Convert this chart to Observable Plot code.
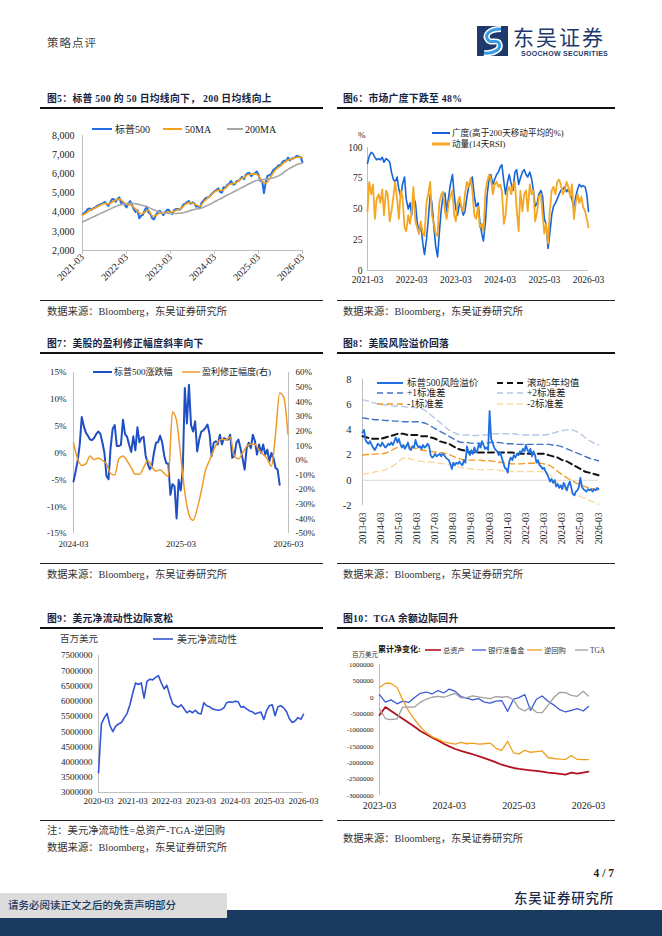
<!DOCTYPE html>
<html><head><meta charset="utf-8">
<script src="https://cdn.jsdelivr.net/npm/d3@7"></script>
<script src="https://cdn.jsdelivr.net/npm/@observablehq/plot@0.6"></script>
<style>
html,body{margin:0;padding:0;background:#fff;}
#page{position:relative;width:662px;height:936px;overflow:hidden;font-family:"Liberation Serif","Noto Sans CJK SC",serif;}
.abs{position:absolute;white-space:nowrap;}
</style>
</head><body><div id="page"></div>
<script>
// ---------------- DATA ----------------
// Fig5: S&P 500 (semi-monthly from 2021-03), 50MA & 200MA (monthly from 2021-03)
const spx = [3870,3960, 4050,4170, 4190,4120, 4220,4240, 4330,4370, 4420,4460, 4530,4440, 4330,4480, 4670,4690, 4540,4680,
 4770,4480, 4520,4380, 4250,4440, 4580,4390, 4150,4010, 4100,3680, 3820,3860, 4120,4290, 3980,3900, 3680,3620, 3860,3990, 4070,3990,
 3840,3990, 4120,4130, 3980,3900, 4120,4150, 4170,4130, 4220,4390, 4450,4510, 4580,4440, 4510,4450, 4290,4330, 4200,4500, 4590,4720,
 4770,4780, 4920,5000, 5100,5150, 5240,5060, 5020,5300, 5280,5430, 5480,5630, 5450,5450, 5630,5620, 5730,5840, 5720,5950, 6030,6050,
 5880,5990, 6040,6120, 5950,5640, 5600,5000, 5600,5900, 5930,6000, 6200,6260, 6340,6450, 6450,6620, 6700,6650, 6850,6700, 6800,6800,
 6880,6940, 6900,6860, 6600];
const ma50 = [3850,3950,4100,4180,4270,4380,4450,4430,4520,4630,
 4680,4550,4400,4390,4250,4050,3900,4000,4100,3800,3830,3950,
 3930,4010,4000,4050,4130,4220,4400,4500,4480,4380,4300,4530,
 4720,4880,5060,5150,5130,5260,5450,5480,5560,5710,5800,5950,
 5980,6000,5900,5600,5500,5750,6050,6280,6420,6600,6720,6780,
 6840,6880,6850];
const ma200 = [3500,3580,3670,3760,3850,3940,4030,4120,4210,4290,
 4370,4420,4450,4460,4450,4420,4370,4320,4250,4150,4080,4020,
 3960,3940,3930,3930,3940,3960,4000,4060,4120,4170,4200,4260,
 4350,4440,4540,4640,4740,4840,4940,5040,5140,5240,5340,5440,
 5540,5620,5680,5700,5710,5740,5790,5860,5960,6100,6230,6340,
 6440,6520,6580];
const years5 = ["2021-03","2022-03","2023-03","2024-03","2025-03","2026-03"];

// Fig6: breadth & RSI (semi-monthly from 2021-03)
const breadth = [87,93, 96,95, 92,90, 91,90, 92,88, 91,90, 88,80, 74,72, 76,66, 60,70,
 76,58, 50,55, 45,60, 55,40, 30,38, 22,13, 25,40, 62,55, 35,20, 11,30, 50,60, 63,48,
 60,70, 78,62, 50,45, 55,52, 45,48, 60,68, 72,76, 60,52, 55,40, 30,24, 40,62, 75,78,
 70,74, 78,80, 84,86, 72,62, 72,78, 70,65, 80,82, 70,75, 80,82, 78,76, 80,75, 65,52,
 55,62, 65,60, 42,38, 18,30, 45,52, 55,58, 62,65, 66,68, 64,66, 62,58, 50,60, 66,70,
 68,69, 68,62, 48];
const rsi = [48,72, 62,70, 42,58, 62,55, 66,45, 65,62, 40,48, 60,72, 58,42, 65,60,
 35,32, 45,38, 48,68, 40,35, 30,40, 30,28, 55,62, 72,45, 38,30, 28,55, 62,64, 48,42,
 55,60, 65,45, 40,55, 60,52, 48,62, 72,68, 75,65, 45,42, 52,35, 38,32, 65,72, 78,75,
 62,70, 72,68, 70,65, 38,45, 65,68, 62,70, 72,50, 32,65, 48,62, 65,48, 70,62, 65,40,
 48,60, 62,45, 30,38, 22,48, 65,68, 62,72, 74,70, 62,65, 72,68, 60,70, 42,55, 62,55,
 60,52, 48,42, 35];
const years6 = ["2021-03","2022-03","2023-03","2024-03","2025-03","2026-03"];

// Fig7: S&P 500 change (weekly from 2024-03-01, %), earnings revision (bi-weekly, %, right axis)
const spxChg = [-5.3,-3.5,-1.5,1.5,6.7,5.0,3.8,3.2,2.5,2.4,
 2.8,3.5,4.0,3.6,2.0,0.0,-4.3,-4.9,1.0,4.5,
 5.2,1.3,1.3,1.5,6.2,3.5,3.0,1.5,0.2,3.1,
 0.5,4.8,2.0,2.8,3.0,-0.5,-2.0,-3.0,-2.5,0.0,
 1.9,2.0,3.2,2.0,-0.5,-1.9,-2.0,-7.8,-5.8,-6.2,
 -12.2,-5.0,-7.0,-3.0,12.1,5.5,12.7,5.2,4.0,5.9,
 0.3,2.5,4.0,4.2,4.7,5.3,3.5,-0.6,1.9,2.2,
 1.6,3.4,1.6,2.8,2.5,2.5,3.4,-0.9,-0.6,1.9,
 2.5,0.9,-1.0,-3.1,0.9,1.9,0.9,3.4,2.2,-0.3,
 1.6,0.0,1.6,-0.3,0.6,-1.6,0.0,-0.9,-2.8,-3.1,
 -5.9];
const revision = [12,1,-3.5,-2.5,3,0.5,1.5,0,-2.5,-9,
 -10,1,3,-0.5,-5,-9.5,-9.5,-5,0,-4.5,
 -7.3,-6.5,-9,-11,33,27,3,-22,-37,-41,
 -33,-21,-7,0,7,12.5,14.4,14,16,3,
 1,5,9.5,11,11,7,4,1,-4,18,
 46,43,18];
const years7 = ["2024-03","2025-03","2026-03"];

// Fig8: ERP (monthly from 2013-03), rolling mean and bands (quarterly from 2013-03)
const erp = [3.8,4.0,3.2,3.0,2.9,3.1,2.8,2.6,2.4,2.6,
 2.9,2.8,2.7,3.0,2.8,2.6,2.7,2.9,2.8,3.0,2.8,3.1,
 3.4,3.0,3.3,2.9,2.6,2.8,2.5,2.7,3.0,2.5,2.4,2.7,
 2.6,3.2,2.8,2.6,2.7,2.5,2.8,2.6,2.7,2.9,2.7,2.0,
 1.8,1.9,2.1,1.9,2.0,2.1,1.9,2.1,2.0,1.8,1.7,1.6,
 1.3,0.9,1.4,1.2,1.4,1.3,1.5,1.3,1.2,1.6,1.4,2.7,
 2.2,2.0,2.4,2.1,2.6,2.2,2.4,2.9,2.6,3.1,2.8,2.5,
 2.6,2.4,5.5,3.3,3.0,2.6,2.4,2.3,2.0,2.2,1.8,1.4,
 1.0,0.9,0.6,1.5,1.8,1.6,2.0,1.8,2.1,2.0,2.3,2.2,
 2.5,2.3,2.8,2.4,2.2,2.5,1.9,2.3,2.0,1.4,1.6,1.2,
 1.1,0.9,1.0,0.7,0.5,0.2,-0.1,0.1,-0.2,0.0,-0.5,-0.3,
 -0.6,-0.4,-0.7,-0.2,-0.5,-0.8,-0.4,-0.1,-0.6,-1.1,-1.2,-0.9,
 -0.8,-0.5,0.2,-0.5,-0.7,-0.8,-0.9,-0.7,-0.8,-0.7,-0.9,-0.7,
 -0.8,-0.6,-0.7];
const erpMean = [3.5,3.4,3.3,3.3, 3.3,3.4,3.5,3.6, 3.7,3.7,3.6,3.6, 3.6,3.5,3.5,3.4, 3.3,3.1,3.0,2.9,
 2.7,2.5,2.4,2.3, 2.2,2.2,2.2,2.2, 2.2,2.2,2.2,2.2, 2.2,2.2,2.1,2.1, 2.1,2.1,2.1,2.1,
 2.1,2.0,1.9,1.8, 1.6,1.5,1.3,1.1, 0.9,0.7,0.6,0.5, 0.4];
const erpP1 = [4.95,4.9,4.85,4.8, 4.8,4.75,4.75,4.7, 4.7,4.65,4.65,4.65, 4.65,4.6,4.5,4.3, 4.1,3.9,3.7,3.5,
 3.3,3.1,3.0,3.0, 2.95,2.95,2.95,2.95, 3.0,3.0,3.0,2.95, 2.9,2.9,2.85,2.85, 2.85,2.85,2.85,2.85,
 2.85,2.85,2.8,2.75, 2.65,2.5,2.35,2.2, 2.05,1.9,1.75,1.65, 1.55];
const erpP2 = [6.4,6.3,6.2,6.1, 6.0,6.0,5.95,5.9, 5.9,5.85,5.8,5.8, 5.75,5.7,5.5,5.2, 4.9,4.6,4.3,4.0,
 3.8,3.65,3.6,3.6, 3.55,3.55,3.6,3.6, 3.65,3.7,3.7,3.7, 3.7,3.7,3.65,3.6, 3.6,3.6,3.6,3.6,
 3.6,3.65,3.75,3.85, 3.95,4.0,4.0,3.9, 3.7,3.4,3.15,2.95, 2.8];
const erpM1 = [2.0,2.05,2.05,2.1, 2.1,2.15,2.3,2.5, 2.65,2.75,2.7,2.6, 2.5,2.4,2.35,2.3, 2.25,2.2,2.15,2.05,
 1.9,1.75,1.65,1.6, 1.6,1.6,1.6,1.55, 1.55,1.5,1.45,1.4, 1.35,1.3,1.3,1.3, 1.35,1.35,1.35,1.35,
 1.3,1.2,1.0,0.7, 0.45,0.2,0.0,-0.2, -0.35,-0.5,-0.6,-0.7, -0.8];
const erpM2 = [0.5,0.55,0.6,0.7, 0.75,0.85,1.0,1.2, 1.5,1.75,1.75,1.65, 1.55,1.5,1.45,1.45, 1.4,1.35,1.3,1.25,
 1.2,1.1,1.0,0.95, 0.9,0.85,0.85,0.85, 0.85,0.85,0.8,0.75, 0.7,0.7,0.7,0.7, 0.7,0.7,0.7,0.7,
 0.65,0.5,0.2,-0.2, -0.5,-0.8,-1.0,-1.15, -1.3,-1.45,-1.6,-1.75, -1.9];
const years8 = d3.range(2013, 2027).map(y => y + "-03");

// Fig9: US net liquidity (monthly from 2020-03, USD mn)
const netLiq = [3650000,5250000,5450000,5600000,5200000,5000000,5180000,5250000,5300000,5450000,
 5600000,5900000,6250000,6600000,6550000,6600000,6100000,6650000,6720000,6700000,
 6780000,6840000,6600000,6400000,6520000,6200000,5920000,5850000,5800000,5880000,
 5750000,5620000,5680000,5620000,5700000,5600000,5580000,5950000,5850000,5820000,
 5750000,5720000,5700000,5720000,5780000,5950000,5980000,5960000,6000000,5980000,
 5800000,5820000,5750000,5680000,5650000,5580000,5620000,5640000,5400000,5700000,
 5850000,5880000,5520000,5820000,5850000,5780000,5650000,5420000,5300000,5350000,
 5460000,5400000,5570000];
const years9 = ["2020-03","2021-03","2022-03","2023-03","2024-03","2025-03","2026-03"];

// Fig10: cumulative changes (monthly from 2023-03, USD mn)
const totalAssets = [-550000,-300000,-420000,-540000,-660000,-780000,-900000,-1030000,-1130000,-1230000,
 -1320000,-1420000,-1500000,-1580000,-1640000,-1690000,-1740000,-1800000,-1860000,-1920000,
 -1990000,-2060000,-2110000,-2160000,-2190000,-2210000,-2230000,-2250000,-2270000,-2300000,
 -2320000,-2340000,-2360000,-2300000,-2330000,-2300000,-2270000];
const reserves = [80000,-150000,-80000,-200000,-120000,-160000,-10000,120000,160000,100000,
 200000,130000,250000,180000,20000,-30000,-80000,-40000,-150000,-180000,
 -120000,-100000,-430000,-60000,-10000,80000,-400000,-60000,40000,-120000,
 -240000,-380000,-450000,-400000,-350000,-420000,-280000];
const reverseRepo = [300000,430000,420000,300000,-80000,-420000,-680000,-900000,-1080000,-1200000,
 -1280000,-1360000,-1400000,-1430000,-1380000,-1420000,-1400000,-1430000,-1420000,-1400000,
 -1560000,-1620000,-1350000,-1700000,-1730000,-1620000,-1680000,-1660000,-1640000,-1840000,
 -1870000,-1890000,-1900000,-1780000,-1900000,-1905000,-1905000];
const tga = [-350000,-650000,-680000,-660000,-300000,-300000,-300000,-150000,-60000,0,
 30000,0,60000,120000,-20000,-10000,40000,10000,-20000,-40000,
 20000,0,20000,-80000,-330000,-420000,-300000,-460000,-470000,-250000,
 0,150000,140000,60000,30000,180000,40000];
const years10 = ["2023-03","2024-03","2025-03","2026-03"];

// ---------------- HELPERS ----------------
const SERIF = '"Liberation Serif","Noto Sans CJK SC",serif';
const page = document.getElementById('page');
const D = s => new Date(s + (s.length === 7 ? "-01" : "") + "T00:00:00Z");
const semi = (start, vals) => vals.map((v, i) => ({date: d3.utcDay.offset(d3.utcMonth.offset(D(start), Math.floor(i / 2)), (i % 2) * 14), value: v}));
const monthly = (start, vals, step = 1) => vals.map((v, i) => ({date: d3.utcMonth.offset(D(start), i * step), value: v}));
const daily = (start, vals, days) => vals.map((v, i) => ({date: d3.utcDay.offset(D(start), i * days), value: v}));
const fmtYM = d3.utcFormat("%Y-%m");

function T(str, x, y, size, o = {}) {
  const d = document.createElement('div');
  d.className = 'abs';
  d.textContent = str;
  const lh = Math.round(size * 1.3);
  d.style.fontSize = size + 'px';
  d.style.lineHeight = lh + 'px';
  d.style.top = (y - lh / 2) + 'px';
  if (o.anchor === 'end') d.style.right = (662 - x) + 'px'; else d.style.left = x + 'px';
  if (o.weight) d.style.fontWeight = o.weight;
  d.style.color = o.color || '#222';
  d.style.fontFamily = o.family || SERIF;
  if (o.ls) d.style.letterSpacing = o.ls + 'px';
  if (o.z) d.style.zIndex = o.z;
  page.appendChild(d); return d;
}
function R(x, y, w, h, color, z) {
  const d = document.createElement('div');
  d.className = 'abs';
  Object.assign(d.style, {left: x + 'px', top: y + 'px', width: w + 'px', height: h + 'px', background: color});
  if (z) d.style.zIndex = z;
  page.appendChild(d); return d;
}
function L(x1, x2, y, color, w, dash) {
  const ns = "http://www.w3.org/2000/svg";
  const s = document.createElementNS(ns, "svg");
  s.setAttribute("width", x2 - x1); s.setAttribute("height", 10);
  s.style.position = "absolute"; s.style.left = x1 + "px"; s.style.top = (y - 5) + "px";
  const l = document.createElementNS(ns, "line");
  l.setAttribute("x1", 0); l.setAttribute("x2", x2 - x1); l.setAttribute("y1", 5); l.setAttribute("y2", 5);
  l.setAttribute("stroke", color); l.setAttribute("stroke-width", w);
  if (dash) l.setAttribute("stroke-dasharray", dash);
  s.appendChild(l); page.appendChild(s);
}
function place(svg, x, y) {
  const d = document.createElement('div');
  d.className = 'abs';
  d.style.left = x + 'px'; d.style.top = y + 'px';
  d.appendChild(svg); page.appendChild(d);
}
const st = (fs) => ({background: "transparent", overflow: "visible", fontFamily: SERIF, fontSize: fs + "px", color: "#222"});
const AX = "#bfbfbf";

// ---------------- PAGE CHROME ----------------
T("策略点评", 47, 43, 11.5, {color: "#444", ls: 1});
(function () {
  const d = document.createElement('div');
  d.className = 'abs'; d.style.left = '477px'; d.style.top = '26px';
  d.innerHTML = '<svg width="31" height="30"><rect width="31" height="30" fill="#1d3a6b"/>' +
    '<path d="M24 3 C12 3 7 9 11 14 C14 18 20 13 22 17 C25 23 17 28 7 27" fill="none" stroke="#ffffff" stroke-width="6"/>' +
    '<path d="M24 3 C12 3 7 9 11 14 C14 18 20 13 22 17 C25 23 17 28 7 27" fill="none" stroke="#3a9be0" stroke-width="3"/></svg>';
  page.appendChild(d);
})();
T("东吴证券", 513, 36.5, 21, {color: "#1d3a6b", family: '"Noto Sans CJK SC"', ls: 2});
T("SOOCHOW SECURITIES", 521, 53.5, 7, {color: "#1d3a6b", family: '"Liberation Sans",sans-serif', weight: 700, ls: 0.3});

// titles + rules
const TT = {weight: 700, color: "#18233f", ls: 0.3};
T("图5：标普 500 的 50 日均线向下， 200 日均线向上", 47, 98, 9.8, TT);
T("图6：市场广度下跌至 48%", 343, 98, 9.8, TT);
T("图7：美股的盈利修正幅度斜率向下", 47, 343, 9.8, TT);
T("图8：美股风险溢价回落", 343, 343, 9.8, TT);
T("图9：美元净流动性边际宽松", 47, 618, 9.8, TT);
T("图10：TGA 余额边际回升", 343, 618, 9.8, TT);
[107, 352, 627].forEach(y => { R(40, y, 283, 2, "#111"); R(337, y, 278, 2, "#111"); });
[300, 563, 820].forEach(y => { R(40, y, 283, 1.2, "#222"); R(337, y, 278, 1.2, "#222"); });
const SRC = "数据来源：Bloomberg，东吴证券研究所";
T(SRC, 47, 311, 10.3, {color: "#333"}); T(SRC, 343, 311, 10.3, {color: "#333"});
T(SRC, 47, 574, 10.3, {color: "#333"}); T(SRC, 343, 574, 10.3, {color: "#333"});
T("注：美元净流动性=总资产-TGA-逆回购", 47, 830, 10.3, {color: "#333"});
T(SRC, 47, 847, 10.3, {color: "#333"}); T(SRC, 343, 838, 10.3, {color: "#333"});

// footer
T("4 / 7", 614, 873, 11.5, {anchor: 'end', weight: 700, color: "#222"});
T("东吴证券研究所", 514, 897, 13.5, {color: "#1b2a4a", family: '"Noto Sans CJK SC"', weight: 500, ls: 0.8});
R(0, 910, 662, 26, "#1a3a5f");
R(0, 893, 227, 25, "#dcdcdc", 2);
T("请务必阅读正文之后的免责声明部分", 8, 905, 10.5, {color: "#1a3a5f", family: '"Noto Sans CJK SC"', weight: 500, z: 3});

// ---------------- FIG 5 ----------------
{
  const x0 = D("2021-03"), x1 = D("2026-03");
  const ticks = years5.map(D);
  place(Plot.plot({
    width: 280, height: 185, marginLeft: 42, marginRight: 18, marginTop: 20, marginBottom: 50,
    style: st(10),
    x: {type: "utc", domain: [x0, x1], label: null},
    y: {domain: [2000, 8000], label: null},
    marks: [
      Plot.ruleX([x0], {stroke: AX}),
      Plot.ruleY([2000], {stroke: AX}),
      Plot.axisY({ticks: d3.range(2000, 8001, 1000), tickSize: 0, tickPadding: 8, label: null, tickFormat: d3.format(",")}),
      Plot.axisX({ticks, tickSize: 4, stroke: AX, label: null, tickFormat: () => ""}),
      Plot.axisX({ticks, tickSize: 0, tickPadding: 5, tickRotate: -45, label: null, tickFormat: fmtYM}),
      Plot.line(semi("2021-03", spx), {x: "date", y: "value", stroke: "#1f6fe0", strokeWidth: 2}),
      Plot.line(monthly("2021-03", ma50), {x: "date", y: "value", stroke: "#f5a01a", strokeWidth: 1.6, curve: "monotone-x"}),
      Plot.line(monthly("2021-03", ma200), {x: "date", y: "value", stroke: "#a6a6a6", strokeWidth: 1.6, curve: "monotone-x"})
    ]
  }), 40, 115);
  L(92, 112, 129, "#1f6fe0", 2); T("标普500", 115, 129, 10);
  L(163, 182, 129, "#f5a01a", 2); T("50MA", 185, 129, 10);
  L(227, 243, 129, "#a6a6a6", 2); T("200MA", 245, 129, 10);
}

// ---------------- FIG 6 ----------------
{
  const x0 = D("2021-03"), x1 = D("2026-03");
  place(Plot.plot({
    width: 280, height: 165, marginLeft: 32, marginRight: 27, marginTop: 22, marginBottom: 20,
    style: st(9.5),
    x: {type: "utc", domain: [x0, x1], label: null},
    y: {domain: [0, 100], label: null},
    marks: [
      Plot.ruleX([x0], {stroke: AX}),
      Plot.ruleY([0], {stroke: AX}),
      Plot.axisY({ticks: [0, 25, 50, 75, 100], tickSize: 0, tickPadding: 5, label: null, tickFormat: d => String(d)}),
      Plot.axisX({ticks: years6.map(D), tickSize: 0, tickPadding: 6, label: null, tickFormat: fmtYM}),
      Plot.line(semi("2021-03", breadth), {x: "date", y: "value", stroke: "#1565d8", strokeWidth: 1.6}),
      Plot.line(semi("2021-03", rsi), {x: "date", y: "value", stroke: "#f5a623", strokeWidth: 1.8})
    ]
  }), 335, 125);
  T("%", 358, 135, 9);
  L(432, 450, 133, "#1565d8", 2); T("广度(高于200天移动平均的%)", 452, 133, 8.6);
  L(432, 450, 144, "#f5a623", 3); T("动量(14天RSI)", 452, 144, 8.6);
}

// ---------------- FIG 7 ----------------
{
  const x0 = D("2024-03"), x1 = D("2026-03");
  const common = {width: 290, height: 195, marginLeft: 33, marginRight: 42, marginTop: 12, marginBottom: 22,
    style: st(9)};
  place(Plot.plot({
    ...common,
    x: {type: "utc", domain: [x0, x1], label: null},
    y: {domain: [-15, 15], label: null},
    marks: [
      Plot.ruleX([x0], {stroke: AX}),
      Plot.axisY({ticks: d3.range(-15, 16, 5), tickSize: 0, tickPadding: 7, label: null, tickFormat: d => d + "%"}),
      Plot.axisX({ticks: years7.map(D), tickSize: 0, tickPadding: 7, label: null, tickFormat: fmtYM}),
      Plot.line(daily("2024-03", spxChg, 7), {x: "date", y: "value", stroke: "#1f4fc4", strokeWidth: 2})
    ]
  }), 40, 360);
  place(Plot.plot({
    ...common,
    x: {type: "utc", domain: [x0, x1], axis: null, label: null},
    y: {domain: [-50, 60], label: null},
    marks: [
      Plot.ruleX([x1], {stroke: AX}),
      Plot.axisY({anchor: "right", ticks: d3.range(-50, 61, 10), tickSize: 0, tickPadding: 7, label: null, tickFormat: d => d + "%"}),
      Plot.line(daily("2024-03", revision, 14), {x: "date", y: "value", stroke: "#f09a28", strokeWidth: 1.5, curve: "monotone-x"})
    ]
  }), 40, 360);
  L(93, 112, 372, "#1f4fc4", 2); T("标普500涨跌幅", 114, 372, 9);
  L(182, 200, 372, "#f09a28", 1.5); T("盈利修正幅度(右)", 202, 372, 9);
}

// ---------------- FIG 8 ----------------
{
  const x0 = D("2013-03"), x1 = D("2026-03");
  const band = (arr) => monthly("2013-03", arr, 3);
  place(Plot.plot({
    width: 285, height: 185, marginLeft: 27, marginRight: 22, marginTop: 14, marginBottom: 45,
    style: st(9.5),
    x: {type: "utc", domain: [x0, x1], label: null},
    y: {domain: [-2, 8], label: null},
    marks: [
      Plot.ruleX([x0], {stroke: AX}),
      Plot.ruleY([0], {stroke: "#d9d9d9"}),
      Plot.axisY({ticks: d3.range(-2, 9, 2), tickSize: 0, tickPadding: 11, fontSize: 10.5, label: null, tickFormat: d => String(d)}),
      Plot.axisX({ticks: years8.map(D), tickSize: 0, tickPadding: 7, tickRotate: -90, label: null, tickFormat: fmtYM}),
      Plot.line(band(erpM2), {x: "date", y: "value", stroke: "#fbd9a0", strokeWidth: 1.4, strokeDasharray: "6,4", curve: "monotone-x"}),
      Plot.line(band(erpP2), {x: "date", y: "value", stroke: "#b4c7e7", strokeWidth: 1.4, strokeDasharray: "6,4", curve: "monotone-x"}),
      Plot.line(band(erpM1), {x: "date", y: "value", stroke: "#f09a28", strokeWidth: 1.4, strokeDasharray: "6,4", curve: "monotone-x"}),
      Plot.line(band(erpP1), {x: "date", y: "value", stroke: "#4472c4", strokeWidth: 1.4, strokeDasharray: "6,4", curve: "monotone-x"}),
      Plot.line(band(erpMean), {x: "date", y: "value", stroke: "#111", strokeWidth: 2, strokeDasharray: "6,4", curve: "monotone-x"}),
      Plot.line(monthly("2013-03", erp), {x: "date", y: "value", stroke: "#1f6fe0", strokeWidth: 1.8})
    ]
  }), 335, 365);
  L(377, 403, 383, "#1f6fe0", 2); T("标普500风险溢价", 407, 383, 9.5);
  L(497, 523, 383, "#111", 2.2, "6,4"); T("滚动5年均值", 527, 383, 9.5);
  L(377, 403, 393, "#4472c4", 1.4, "6,4"); T("+1标准差", 407, 393, 9.5);
  L(497, 523, 393, "#b4c7e7", 1.4, "6,4"); T("+2标准差", 527, 393, 9.5);
  L(377, 403, 404, "#f09a28", 1.6, "6,4"); T("-1标准差", 407, 404, 9.5);
  L(497, 523, 404, "#fbd9a0", 1.6, "6,4"); T("-2标准差", 527, 404, 9.5);
}

// ---------------- FIG 9 ----------------
{
  const x0 = D("2020-03"), x1 = D("2026-03");
  place(Plot.plot({
    width: 285, height: 172, marginLeft: 58, marginRight: 22, marginTop: 10, marginBottom: 25,
    style: st(9),
    x: {type: "utc", domain: [x0, x1], label: null},
    y: {domain: [3000000, 7500000], label: null},
    marks: [
      Plot.ruleX([x0], {stroke: AX}),
      Plot.ruleY([3000000], {stroke: AX}),
      Plot.axisY({ticks: d3.range(3000000, 7500001, 500000), tickSize: 0, tickPadding: 6, label: null, tickFormat: d => String(d)}),
      Plot.axisX({ticks: years9.map(D), tickSize: 0, tickPadding: 5, label: null, tickFormat: fmtYM}),
      Plot.line(monthly("2020-03", netLiq), {x: "date", y: "value", stroke: "#3355d4", strokeWidth: 1.6})
    ]
  }), 40, 645);
  T("百万美元", 60, 639, 9.5, {color: "#333"});
  L(153, 173, 639, "#3355d4", 1.6); T("美元净流动性", 177, 639, 10, {color: "#333"});
}

// ---------------- FIG 10 ----------------
{
  const x0 = D("2023-03"), x1 = D("2026-03");
  const s = (arr) => monthly("2023-03", arr);
  place(Plot.plot({
    width: 285, height: 165, marginLeft: 44, marginRight: 32, marginTop: 9, marginBottom: 25,
    style: st(7),
    x: {type: "utc", domain: [x0, x1], label: null},
    y: {domain: [-3000000, 1000000], label: null},
    marks: [
      Plot.ruleX([x0], {stroke: AX}),
      Plot.axisY({ticks: d3.range(-3000000, 1000001, 500000), tickSize: 0, tickPadding: 6, label: null, tickFormat: d => String(d)}),
      Plot.axisX({ticks: years10.map(D), tickSize: 0, tickPadding: 6, fontSize: 10, label: null, tickFormat: fmtYM}),
      Plot.line(s(totalAssets), {x: "date", y: "value", stroke: "#b3121f", strokeWidth: 1.8}),
      Plot.line(s(reserves), {x: "date", y: "value", stroke: "#3a5ad8", strokeWidth: 1.3}),
      Plot.line(s(reverseRepo), {x: "date", y: "value", stroke: "#f0a020", strokeWidth: 1.3}),
      Plot.line(s(tga), {x: "date", y: "value", stroke: "#a0a0a0", strokeWidth: 1.3})
    ]
  }), 335, 655);
  T("百万美元", 352, 655, 6.5, {color: "#333"});
  T("累计净变化:", 378, 650, 8, {weight: 700, color: "#111"});
  L(425, 441, 650, "#b3121f", 1.6); T("总资产", 443, 650, 7.3, {color: "#333"});
  L(472, 486, 650, "#3a5ad8", 1.3); T("银行准备金", 488, 650, 7.3, {color: "#333"});
  L(527, 542, 650, "#f0a020", 1.3); T("逆回购", 544, 650, 7.3, {color: "#333"});
  L(575, 588, 650, "#a0a0a0", 1.3); T("TGA", 590, 650, 7.3, {color: "#333"});
}
</script>
</body></html>
